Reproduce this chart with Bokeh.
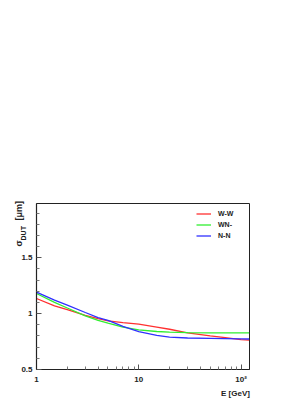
import numpy as np
from bokeh.plotting import figure
from bokeh.models import (Range1d, FixedTicker, Legend, LegendItem, LinearAxis)
from bokeh.embed import file_html
from bokeh.resources import INLINE

# ---- data ----
energy = [1, 1.5, 2, 3, 4, 5, 7, 10, 15, 20, 30, 50, 70, 100, 120]
sigma_ww = [1.135, 1.07, 1.035, 0.985, 0.955, 0.935, 0.92, 0.905, 0.88, 0.86, 0.828, 0.80, 0.785, 0.768, 0.762]
sigma_wn = [1.18, 1.10, 1.05, 0.98, 0.94, 0.915, 0.88, 0.855, 0.84, 0.834, 0.829, 0.828, 0.827, 0.827, 0.827]
sigma_nn = [1.193, 1.12, 1.075, 1.01, 0.965, 0.94, 0.885, 0.838, 0.805, 0.79, 0.782, 0.778, 0.776, 0.774, 0.773]
series_names = ["W-W", "WN-", "N-N"]
series_colors = ["#ff3030", "#30ee30", "#3030ff"]
x_major = [1, 10, 100]
x_minor = [2, 3, 4, 5, 6, 7, 8, 9, 20, 30, 40, 50, 60, 70, 80, 90]
x_tick_labels = {1: "1", 10: "10", 100: "10\u00b2"}
y_major = [0.5, 1.0, 1.5]
y_minor = [0.6, 0.7, 0.8, 0.9, 1.1, 1.2, 1.3, 1.4, 1.6, 1.7, 1.8, 1.9]
y_tick_labels = {0.5: "0.5", 1: "1", 1.5: "1.5"}
EM, EN, THIN = "\u2003", "\u2002", "\u2009"
# trailing em-space padding pushes the centred-at-end titles so that they end at the axis end
x_title = "E [GeV]" + EM * 3 + EN
y_title_main = "\u03c3" + EM * 2 + THIN + "[\u03bcm]" + EM * 4 + EN
y_title_sub = "DUT" + EM * 8 + EN

FONT = "Liberation Sans"
INK = "#222222"

p = figure(frame_width=213, frame_height=166, x_axis_type="log",
           x_range=Range1d(1, 121), y_range=Range1d(0.5, 1.985),
           output_backend="svg", toolbar_location=None,
           min_border_left=36, min_border_right=51, min_border_top=203, min_border_bottom=27)
p.background_fill_color = "white"
p.border_fill_color = "white"
p.outline_line_color = INK
p.outline_line_width = 1
p.grid.visible = False

has_align = "axis_label_align" in LinearAxis.properties()

for ax in (p.xaxis[0], p.yaxis[0]):
    ax.axis_line_color = INK
    ax.axis_line_width = 1.2
    ax.major_tick_out = 0
    ax.major_tick_in = 5
    ax.minor_tick_out = 0
    ax.minor_tick_in = 3
    ax.major_tick_line_color = "#555555"
    ax.minor_tick_line_color = "#777777"
    ax.major_label_text_font = FONT
    ax.major_label_text_font_size = "8px"
    ax.major_label_text_font_style = "bold"
    ax.major_label_text_color = INK
    ax.axis_label_text_font = FONT
    ax.axis_label_text_font_style = "bold"
    ax.axis_label_text_color = INK
    if has_align:
        ax.axis_label_align = "end"

p.xaxis.ticker = FixedTicker(ticks=x_major, minor_ticks=x_minor)
p.xaxis.major_label_overrides = x_tick_labels
p.xaxis.major_label_standoff = 5
p.xaxis.axis_label = x_title
p.xaxis.axis_label_text_font_size = "8px"
p.xaxis.axis_label_standoff = 2

p.yaxis.ticker = FixedTicker(ticks=y_major, minor_ticks=y_minor)
p.yaxis.major_label_overrides = y_tick_labels
p.yaxis.major_label_standoff = 4
p.yaxis.axis_label = y_title_sub
p.yaxis.axis_label_text_font_size = "7px"
p.yaxis.axis_label_standoff = -9

# second (label-only) left axis carrying sigma and the unit
ax2 = LinearAxis(ticker=FixedTicker(ticks=[]), axis_line_color=None,
                 major_tick_line_color=None, minor_tick_line_color=None,
                 major_tick_out=0, major_tick_in=0, minor_tick_out=0, minor_tick_in=0,
                 major_label_text_font_size="0px",
                 axis_label=y_title_main, axis_label_standoff=-6,
                 axis_label_text_font=FONT, axis_label_text_font_style="bold",
                 axis_label_text_font_size="9px", axis_label_text_color=INK)
if has_align:
    ax2.axis_label_align = "end"
p.add_layout(ax2, "left")

renderers = []
for ys, c in zip([sigma_ww, sigma_wn, sigma_nn], series_colors):
    r = p.line(energy, ys, line_color=c, line_width=1.3)
    renderers.append(r)

legend = Legend(items=[LegendItem(label=n, renderers=[r]) for n, r in zip(series_names, renderers)],
                location=(160, 128), glyph_width=15, glyph_height=11, label_height=11,
                label_standoff=7, spacing=0, padding=0, margin=0,
                border_line_color=None, background_fill_alpha=0,
                label_text_font=FONT, label_text_font_size="7px", label_text_font_style="bold",
                label_text_color=INK)
p.add_layout(legend)

open("out.html", "w").write(file_html(p, INLINE))
